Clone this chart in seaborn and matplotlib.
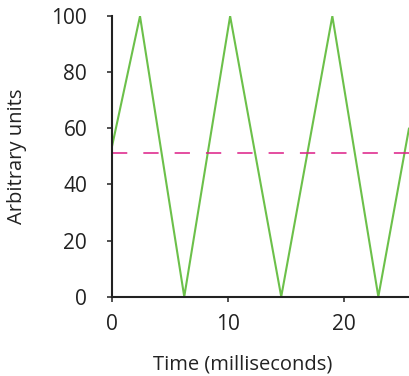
import matplotlib
matplotlib.use("Agg")
import matplotlib.pyplot as plt
import seaborn as sns
import pandas as pd

# valores
tempo = [0, 2.44, 6.25, 10.2, 14.6, 19.0, 22.96, 25.6]
valores = [53, 100, 0, 100, 0, 100, 0, 60]
media = 51.2
xticks = [0, 10, 20]
yticks = [0, 20, 40, 60, 80, 100]

df = pd.DataFrame({"tempo": tempo, "valor": valores})

sns.set_style("ticks")
plt.rcParams["font.family"] = ["Open Sans", "DejaVu Sans"]

fig = plt.figure(figsize=(4.09, 3.76), dpi=100)
ax = fig.add_axes([0.273, 0.211, 0.727, 0.746])

sns.lineplot(x="tempo", y="valor", data=df, color="#6cc04a", linewidth=1.5, ax=ax)
ax.axhline(media, color="#dc1c86", linewidth=1.1, dashes=(10, 10.5))

ax.set_xlim(0, 25.6)
ax.set_ylim(0, 100)
ax.set_xticks(xticks)
ax.set_yticks(yticks)
ax.tick_params(axis="both", labelsize=15, length=3.6, width=1.1, colors="#222222")
ax.tick_params(axis="y", pad=14)
ax.tick_params(axis="x", pad=9)

sns.despine(ax=ax)
for s in ["left", "bottom"]:
    ax.spines[s].set_linewidth(1.5)
    ax.spines[s].set_color("#222222")

ax.set_xlabel("Time (milliseconds)", fontsize=14.5, color="#222222")
ax.set_ylabel("Arbitrary units", fontsize=14.5, color="#222222")
ax.xaxis.set_label_coords(0.44, -0.205)
ax.yaxis.set_label_coords(-0.285, 0.5)

plt.savefig("out.png", dpi=100)
